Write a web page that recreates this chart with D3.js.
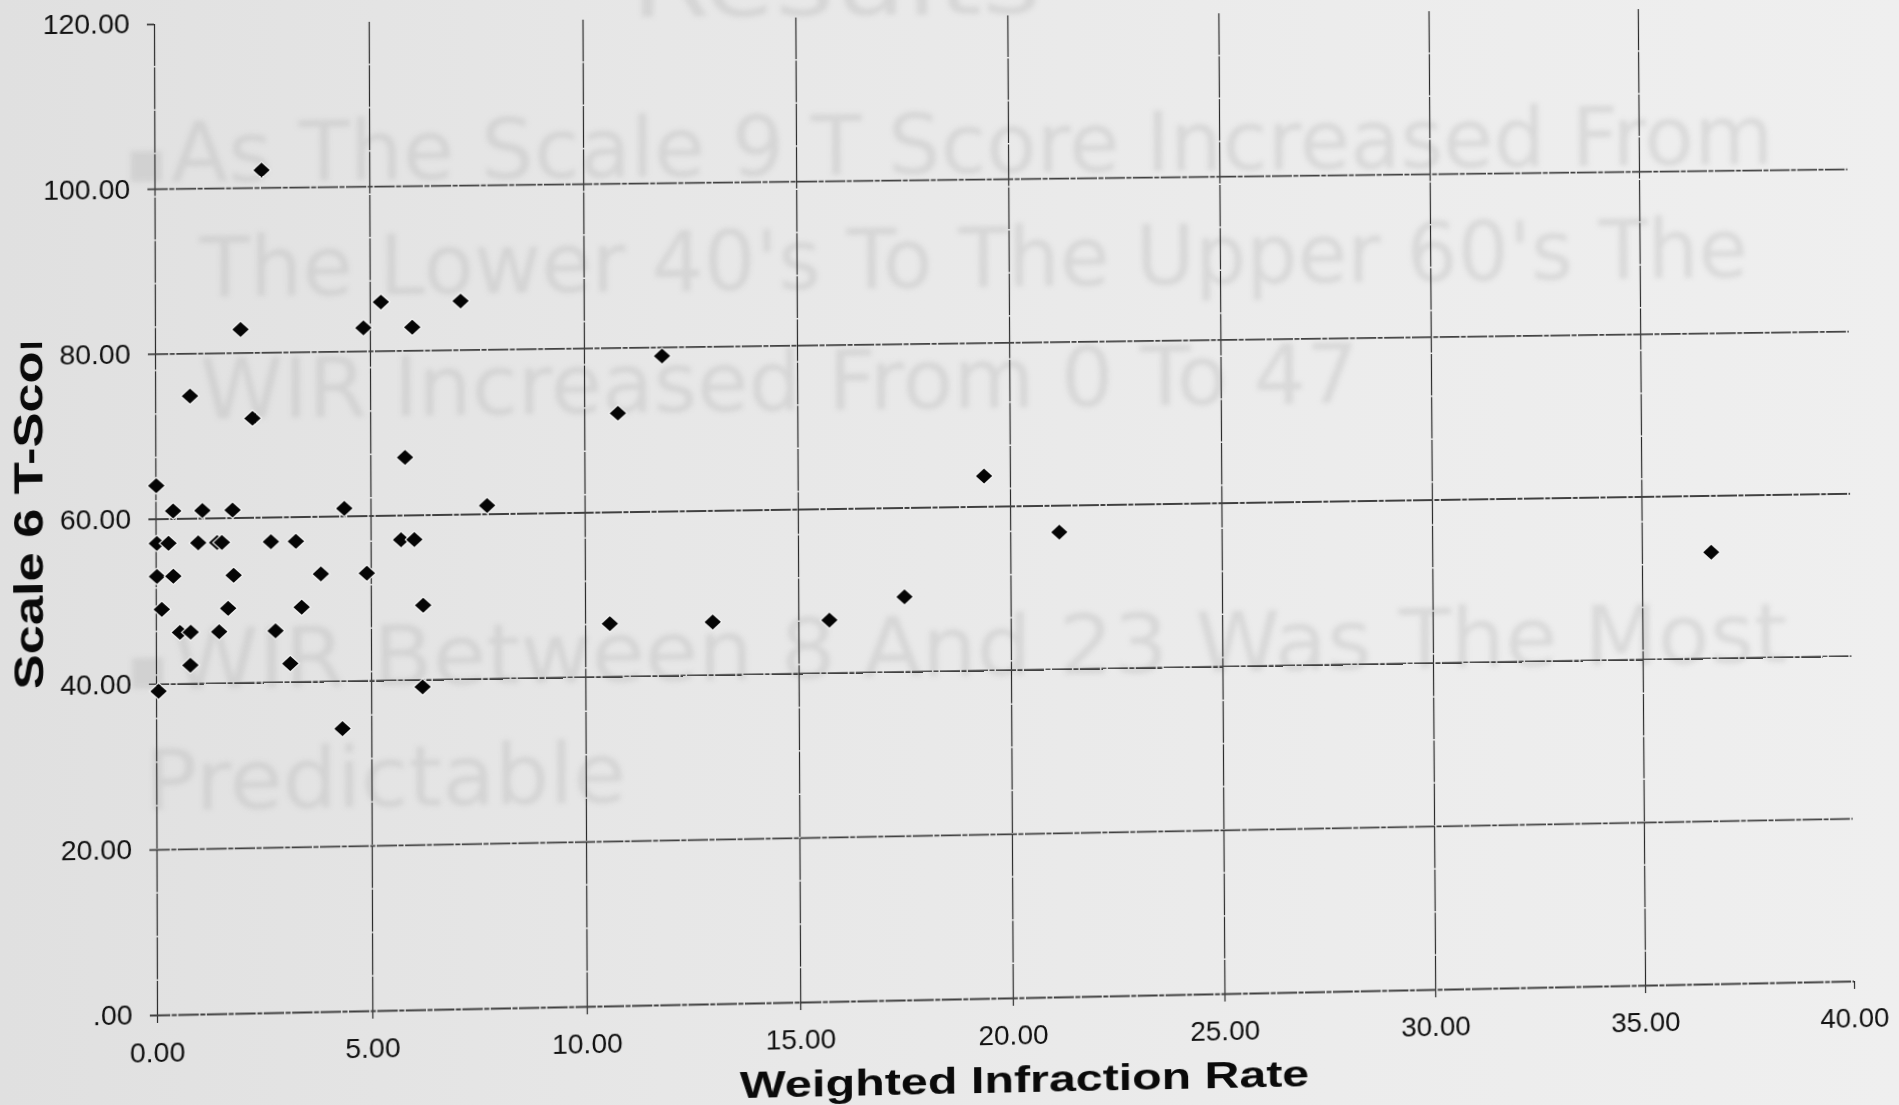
<!DOCTYPE html>
<html>
<head>
<meta charset="utf-8">
<script src="https://cdn.jsdelivr.net/npm/d3@7"></script>
<style>
  html, body { margin: 0; padding: 0; width: 1899px; height: 1105px; overflow: hidden; }
  body { background: linear-gradient(90deg, #e0e0e0 0%, #e7e7e7 35%, #ececec 70%, #efefef 100%); }
  #sheet { position: absolute; left: 0; top: 0; width: 1899px; height: 1140px; transform-origin: 0 0; }
  #sheet svg { display: block; overflow: visible; }
</style>
</head>
<body>
<div id="sheet"></div>
<script>
// ---- data: Weighted Infraction Rate vs Scale 6 T-score ----
const infractionRate = [
  2.49, 1.99, 4.85, 5.26, 5.99, 7.12, 11.83, 0.81, 2.26, 5.81, 10.79,
  0.02, 0.41, 1.09, 1.79, 4.39, 7.72,
  0.03, 0.30, 0.99, 1.43, 1.54, 2.68, 3.26, 5.71, 6.02,
  0.03, 0.41, 1.81, 3.84, 4.91,
  0.14, 1.68, 3.39, 6.22,
  0.56, 0.81, 1.47, 2.78,
  0.80, 3.12, 0.06, 6.20, 4.33,
  10.58, 12.99, 15.73, 17.50, 19.39, 21.16, 36.66
];
const scale6T = [
  102.1, 82.8, 82.8, 85.9, 82.8, 85.9, 78.9, 74.8, 72.0, 67.0, 72.0,
  64.0, 60.9, 60.9, 60.9, 60.9, 61.0,
  57.0, 57.0, 57.0, 57.0, 57.0, 57.0, 57.0, 57.0, 57.0,
  53.0, 53.0, 53.0, 53.0, 53.0,
  49.0, 49.0, 49.0, 49.0,
  46.2, 46.2, 46.2, 46.2,
  42.2, 42.2, 39.1, 39.1, 34.2,
  46.4, 46.4, 46.4, 49.1, 63.7, 56.7, 53.0
];

const xTickValues = [0, 5, 10, 15, 20, 25, 30, 35, 40];
const xTickLabels = ["0.00", "5.00", "10.00", "15.00", "20.00", "25.00", "30.00", "35.00", "40.00"];
const yTickValues = [0, 20, 40, 60, 80, 100, 120];
const yTickLabels = [".00", "20.00", "40.00", "60.00", "80.00", "100.00", "120.00"];

const xTitle = "Weighted Infraction Rate";
const yTitle = "Scale 6 T-Score";

// faint lettering showing through the sheet from the facing page
const noteTitle = "Results";
const noteLines = [
  "As The Scale 9 T Score Increased From",
  "The Lower 40's To The Upper 60's The",
  "WIR Increased From 0 To 47",
  "WIR Between 8 And 23 Was The Most",
  "Predictable"
];
const noteBullets = [true, false, false, true, false];

// ---- layout (flat sheet coordinates) ----
const W = 1899, H = 1140;
const L = 156, R = 1852, T = 24, B = 1015;

const x = d3.scaleLinear().domain([0, 40]).range([L, R]);
const y = d3.scaleLinear().domain([0, 120]).range([B, T]);

const svg = d3.select("#sheet").append("svg")
  .attr("width", W).attr("height", H);

const defs = svg.append("defs");
defs.append("filter").attr("id", "soft")
  .attr("x", "-5%").attr("y", "-20%").attr("width", "110%").attr("height", "140%")
  .append("feGaussianBlur").attr("stdDeviation", 2.8);
defs.append("clipPath").attr("id", "ytitle-clip")
  .append("rect").attr("x", 0).attr("y", 342).attr("width", 150).attr("height", 500);

// show-through text layer
const ghost = svg.append("g")
  .attr("filter", "url(#soft)")
  .attr("fill", "#b0b0b0")
  .attr("fill-opacity", 0.33)
  .style("font-family", "'DejaVu Sans', Verdana, sans-serif");

ghost.append("text")
  .attr("x", 628).attr("y", 22)
  .attr("textLength", 410).attr("lengthAdjust", "spacingAndGlyphs")
  .style("font-size", "96px")
  .text(noteTitle);

const noteBox = [[172, 183, 1605], [200, 298, 1550], [200, 420, 1155], [172, 690, 1615], [145, 811, 475]];
noteLines.forEach((line, i) => {
  const [nx, ny, len] = noteBox[i];
  if (noteBullets[i]) {
    ghost.append("text")
      .attr("x", 129).attr("y", ny - 6)
      .style("font-size", "40px")
      .text("\u25A0");
  }
  ghost.append("text")
    .attr("x", nx).attr("y", ny)
    .attr("textLength", len).attr("lengthAdjust", "spacingAndGlyphs")
    .style("font-size", "84px")
    .text(line);
});

const labelFont = "'Liberation Sans', Arial, Helvetica, sans-serif";

// vertical grid + x axis
const gx = svg.append("g")
  .attr("transform", `translate(0,${B})`)
  .call(d3.axisBottom(x)
    .tickValues(xTickValues)
    .tickFormat((d, i) => xTickLabels[i])
    .tickSize(-(B - T))
    .tickPadding(27));
gx.select(".domain").remove();
gx.selectAll(".tick line")
  .attr("y1", 8)
  .attr("y2", d => d === 40 ? 0 : -(B - T))
  .attr("stroke", "#2a2a2a")
  .attr("stroke-width", 1.2)
  .attr("stroke-dasharray", "42 1.5");
gx.selectAll(".tick text")
  .attr("fill", "#111")
  .style("font-family", labelFont)
  .style("font-size", "28px");

// horizontal grid + y axis
const gy = svg.append("g")
  .attr("transform", `translate(${L},0)`)
  .call(d3.axisLeft(y)
    .tickValues(yTickValues)
    .tickFormat((d, i) => yTickLabels[i])
    .tickSize(-(R - L))
    .tickPadding(24));
gy.select(".domain").remove();
gy.selectAll(".tick line")
  .attr("x1", -7)
  .attr("x2", d => d === 120 ? 0 : (R - L))
  .attr("stroke", "#404040")
  .attr("stroke-width", 1.8)
  .attr("stroke-dasharray", "20 1.5 5 1.5");
gy.selectAll(".tick text")
  .attr("fill", "#111")
  .style("font-family", labelFont)
  .style("font-size", "28px");

// scatter points: black diamonds
const diamond = d3.symbol().type(d3.symbolSquare).size(132);
svg.append("g")
  .selectAll("path")
  .data(infractionRate.map((v, i) => [v, scale6T[i]]))
  .join("path")
  .attr("d", diamond)
  .attr("transform", d => `translate(${x(d[0])},${y(d[1])}) scale(1,0.92) rotate(45)`)
  .attr("fill", "#050505")
  .attr("stroke", "#f4f4f4")
  .attr("stroke-width", 2.4)
  .style("paint-order", "stroke");

// axis titles
svg.append("text")
  .attr("x", (L + R) / 2 + 12)
  .attr("y", 1110)
  .attr("text-anchor", "middle")
  .attr("textLength", 569).attr("lengthAdjust", "spacingAndGlyphs")
  .attr("fill", "#0a0a0a")
  .style("font-family", labelFont)
  .style("font-weight", "bold")
  .style("font-size", "37px")
  .text(xTitle);

svg.append("g")
  .attr("clip-path", "url(#ytitle-clip)")
  .append("text")
  .attr("transform", "translate(45,688) rotate(-90)")
  .attr("textLength", 387).attr("lengthAdjust", "spacingAndGlyphs")
  .attr("fill", "#0a0a0a")
  .style("font-family", labelFont)
  .style("font-weight", "bold")
  .style("font-size", "40px")
  .text(yTitle);

// ---- the printed sheet lies slightly tilted: map the flat plot frame onto it ----
function solveLinear(A, b) {
  const n = b.length;
  const M = A.map((row, i) => row.concat([b[i]]));
  for (let c = 0; c < n; c++) {
    let p = c;
    for (let r = c + 1; r < n; r++) if (Math.abs(M[r][c]) > Math.abs(M[p][c])) p = r;
    [M[c], M[p]] = [M[p], M[c]];
    for (let r = 0; r < n; r++) {
      if (r === c) continue;
      const f = M[r][c] / M[c][c];
      for (let k = c; k <= n; k++) M[r][k] -= f * M[c][k];
    }
  }
  return M.map((row, i) => row[n] / row[i]);
}
function homography(src, dst) {
  const A = [], b = [];
  for (let i = 0; i < 4; i++) {
    const [sx, sy] = src[i], [dx, dy] = dst[i];
    A.push([sx, sy, 1, 0, 0, 0, -sx * dx, -sy * dx]); b.push(dx);
    A.push([0, 0, 0, sx, sy, 1, -sx * dy, -sy * dy]); b.push(dy);
  }
  const h = solveLinear(A, b);
  return [h[0], h[3], 0, h[6], h[1], h[4], 0, h[7], 0, 0, 1, 0, h[2], h[5], 0, 1];
}
const frameFlat = [[L, T], [R, T], [L, B], [R, B]];
const frameSheet = [[154, 24], [1846, 7], [157, 1015], [1854, 981]];
d3.select("#sheet").style("transform", `matrix3d(${homography(frameFlat, frameSheet).join(",")})`);
</script>
</body>
</html>
